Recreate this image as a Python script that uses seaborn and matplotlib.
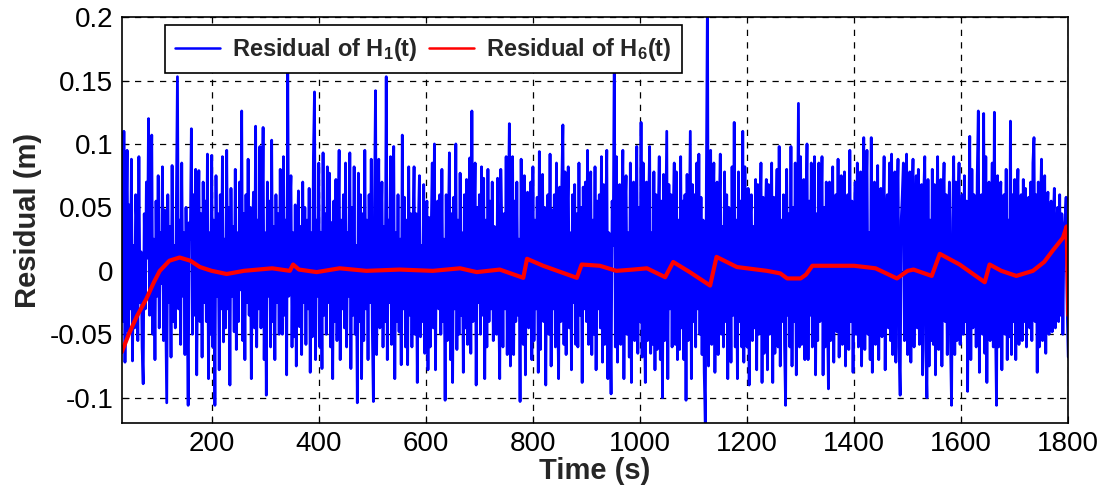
import numpy as np
import pandas as pd
import seaborn as sns
import matplotlib.pyplot as plt

sns.set_style("ticks")
plt.rcParams['font.family'] = ['Liberation Sans', 'DejaVu Sans']
plt.rcParams['axes.unicode_minus'] = False
plt.rcParams['mathtext.fontset'] = 'custom'
plt.rcParams['mathtext.rm'] = 'Liberation Sans:bold'
plt.rcParams['mathtext.default'] = 'rm'

# residual of H1(t) in mm, one reading every 2 s starting at t = 32 s
blue_mm = [
    65, -40, 110, -72, 30, 95, -48, 52, -30, 88, -71, 20, -45, 60, 35, -55, 90, -25, 15, -60, -89, 45, -30, 70, 10,
    120, -35, 40, 107, -50, 25, -70, 55, -20, 75, -45, 30, -10, 82, -55, 48, -30, -104, 60, -25, 35, -68, 83, -40, 20,
    -45, 55, 153, -30, 40, -58, 85, -20, 30, -66, 50, -15, -106, 38, 25, 112, -50, 60, -35, 80, -82, 20, 79, -40, 45,
    -68, 70, -25, 55, -40, 92, -85, 30, -50, 91, -60, 40, -106, 75, -20, 45, -78, 60, -30, 90, -56, 25, -45, 95, -30,
    50, -90, 65, -20, 35, -48, 80, -62, 30, -40, 70, -15, 126, -55, 45, -70, 60, -25, 88, -35, 50, -85, 20, 62, -45,
    114, -60, 40, -30, 98, -45, 25, 113, -70, 30, -98, 70, -20, 55, -60, 103, -40, 35, -70, 60, -25, 45, -50, 80, -30,
    -50, 90, -35, 40, -82, 156, -20, 45, 75, -60, 30, -52, 52, -75, 20, 63, -44, 35, -66, 70, -25, 50, -58, 40, -30,
    65, -80, 30, -52, 90, 141, -70, 40, -20, 85, -60, 30, -77, 93, -35, 45, -50, 82, -25, 77, -60, 38, -85, 55, -40,
    72, -55, 25, 95, -70, 40, -30, 60, -45, 85, -60, 30, -20, 93, -77, 50, -35, 82, -50, 20, -104, 77, -40, 60, -85,
    45, -55, 95, -30, 40, -70, 60, -25, 88, -45, -103, 50, 142, -66, 30, 88, -45, 25, 70, -60, 35, -40, 153, -70, 40,
    -25, 90, -58, 45, 98, -85, 30, -40, 60, -48, 25, -74, 107, -30, 58, -60, 40, -74, 82, -35, 45, -60, 30, 82, -50,
    45, -88, 35, 75, -52, 20, -40, 68, -65, 30, 55, -78, 42, -60, 30, 85, -45, 100, -78, 40, 55, -30, 60, -50, 80,
    -40, 25, -102, 60, -55, 30, 93, -70, 45, -88, 58, -30, 100, -62, 40, -50, 77, -35, 30, -80, 60, -45, 72, -58, 45,
    89, -65, 126, -40, 30, 85, -90, 50, -25, 60, -50, 82, -35, 73, -85, 40, -60, 80, -40, 55, -30, 70, -55, 35, -45,
    -50, 73, -20, -85, 80, 35, -60, 45, -30, 90, -66, 40, 116, -75, 30, 90, -66, 55, -40, 70, -35, 25, -103, 88, -20,
    -58, 75, -82, 40, 62, -45, 30, 70, -70, 82, -55, 40, -30, 58, -80, 94, -62, 35, 76, -40, 50, -90, 30, 60, -50,
    92, -75, 48, -30, 60, -60, 85, -20, -85, 66, -40, 70, 115, -58, 78, -66, 40, 82, -45, 30, -78, 60, -25, 68, -58,
    45, -60, 85, -35, 50, -88, 66, -30, 70, -40, 95, -58, 35, 78, -66, 40, -50, 82, -78, 55, -30, 60, -45, 90, -72,
    68, -58, 40, 95, -85, 30, -30, -97, 55, 20, 175, -60, 90, -72, 35, 68, -58, 40, 95, -85, 45, 75, -50, 30, -68,
    85, -88, 40, 70, -55, 30, 98, -65, 50, -40, 117, -68, 85, -30, -88, 70, -55, 45, 98, -65, 30, -58, 78, -78, 60,
    -62, 40, 90, -70, 55, -100, 76, -55, 30, 110, -85, 68, -30, 60, -60, 45, 85, -58, 78, -70, 40, -62, 90, -45, 55,
    -70, 60, -102, 76, -55, 30, 110, -85, 68, -40, 60, -60, 85, -30, 92, -50, 58, -66, 40, -80, -120, 70, 215, -75, 50,
    95, -58, 40, 85, -80, 30, 70, -66, 45, 92, -50, 35, -60, 78, -40, 60, -85, 50, 30, -72, 82, -35, 117, -60, 40,
    -85, 78, -40, 55, -60, 110, -72, 82, -30, -60, 65, -90, 40, 60, -55, 35, -45, 72, -78, 68, -50, 30, 85, -88, 58,
    -65, 40, 72, -78, 68, -50, 35, 85, -88, 58, -65, 30, 80, -60, 98, -75, 40, -40, 60, -58, -106, 80, -35, 45, -60,
    98, -75, 50, -40, 85, -82, 30, 132, -60, 90, -58, 45, 72, -70, 40, 100, -70, 55, -35, 85, -60, 30, 90, -82, 45,
    -55, 85, -40, 30, 90, -82, 50, -60, 70, -25, -93, 70, -55, 40, 82, -72, 30, 60, -48, 88, -68, 45, 75, -58, 35,
    78, -75, 40, 60, -62, 95, -40, 55, -80, 30, 70, -50, 85, -60, 35, 78, -75, 40, 105, -62, 45, 95, -50, 30, -70,
    105, -80, 40, 70, -58, 30, 83, -70, 45, 65, -52, 35, 90, -78, 40, 60, -45, 85, -55, 92, -66, 30, 78, -72, 50,
    88, -60, -98, 40, 60, 85, -55, 30, 92, -66, 45, 78, -72, 50, 88, -60, 35, 75, -45, 80, -58, 40, 68, -82, 60,
    90, -62, -100, 72, -75, 40, -55, 80, -58, 68, -82, 30, 90, -62, 45, 72, -75, 50, 85, -40, 60, -66, 30, 70, -55,
    -106, 40, 90, -66, 70, -55, 45, 85, -58, 30, 60, -50, 75, -40, 55, -95, 30, 106, -70, 80, -45, 60, 35, -60, 75,
    126, -80, 40, 60, -50, 124, -65, 90, -88, 45, 70, -55, 30, 85, -60, 125, -40, -106, 75, -60, 45, 70, -78, 35, 60,
    -50, 80, -70, 40, -52, 118, -66, 60, -40, 72, -70, 45, 80, -58, 35, 60, -55, 72, -40, 65, -60, 30, 58, -45, 70,
    -55, 85, 105, -40, 60, -80, 70, -60, 45, 88, -55, 30, 75, -65, 40, 62, -50, 35, 55, -48, 40, 65, -45, 30, 50,
    -40, 60, -35, 45, -50, 30, 40, 58, -30, -68,
]
blue_t = 32 + 2 * np.arange(len(blue_mm))
blue_res = np.array(blue_mm) / 1000.0

# residual of H6(t)
red_t = [32, 45, 60, 78, 92, 103, 121, 140, 160, 178, 200, 228, 260, 313, 346, 352,
         363, 396, 439, 489, 551, 613, 664, 695, 738, 782, 789, 819, 882, 891, 925,
         956, 987, 1013, 1047, 1062, 1093, 1131, 1143, 1181, 1237, 1262, 1275,
         1300, 1310, 1322, 1400, 1440, 1480, 1500, 1511, 1545, 1560, 1597, 1644,
         1653, 1675, 1703, 1734, 1755, 1771, 1790, 1797, 1800]
red_res = [-0.064, -0.050, -0.036, -0.022, -0.009, 0.0, 0.008, 0.0105, 0.008, 0.003,
           0.0, -0.0025, 0.0, 0.002, 0.0, 0.005, 0.001, -0.001, 0.002, 0.0, 0.001,
           0.0, 0.002, -0.001, 0.001, -0.0055, 0.0095, 0.004, -0.0055, 0.005, 0.004,
           0.0, 0.001, 0.002, -0.005, 0.007, -0.001, -0.0116, 0.011, 0.003, 0.0,
           -0.002, -0.006, -0.006, -0.003, 0.004, 0.004, 0.002, -0.006, 0.0, 0.001,
           -0.004, 0.0134, 0.005, -0.009, 0.005, 0.0, -0.004, 0.0, 0.007, 0.016,
           0.026, 0.035, -0.035]

y_ticks = [-0.1, -0.05, 0, 0.05, 0.1, 0.15, 0.2]
y_labels = ['-0.1', '-0.05', '0', '0.05', '0.1', '0.15', '0.2']
x_ticks = [200, 400, 600, 800, 1000, 1200, 1400, 1600, 1800]

fig = plt.figure(figsize=(11.07, 4.88), dpi=100)
ax = fig.add_axes([0.110, 0.133, 0.855, 0.832])

sns.lineplot(x=blue_t, y=blue_res, color='#0000ff', lw=2.0, ax=ax,
             label=r'Residual of H$_1$(t)', sort=False)
sns.lineplot(x=red_t, y=red_res, color='#ff0000', lw=3.0, ax=ax,
             label=r'Residual of H$_6$(t)', sort=False)

ax.set_xlim(32, 1800)
ax.set_ylim(-0.12, 0.2)
ax.set_xticks(x_ticks)
ax.set_xticklabels([str(v) for v in x_ticks])
ax.set_yticks(y_ticks)
ax.set_yticklabels(y_labels)
ax.tick_params(direction='in', length=5, labelsize=20, colors='black', pad=6)
ax.grid(True, color='black', linestyle=(0, (5, 5)), lw=0.9)
ax.set_axisbelow(True)
for s in ax.spines.values():
    s.set_visible(True)
    s.set_color('black')
    s.set_linewidth(1.2)

ax.set_xlabel('Time (s)', fontsize=21, fontweight='bold', labelpad=0)
ax.set_ylabel('Residual (m)', fontsize=21, fontweight='bold', labelpad=6)

leg = ax.legend(loc='upper left', bbox_to_anchor=(0.0455, 0.98), ncol=2,
                frameon=True, fancybox=False, borderaxespad=0,
                prop={'size': 17, 'weight': 'bold'}, handlelength=1.9,
                columnspacing=0.5, handletextpad=0.5, borderpad=0.45)
leg.get_frame().set_edgecolor('black')
leg.get_frame().set_linewidth(1.2)
leg.get_frame().set_alpha(1)
for h in leg.get_lines():
    h.set_linewidth(1.8)

fig.savefig('out.png', dpi=100)
